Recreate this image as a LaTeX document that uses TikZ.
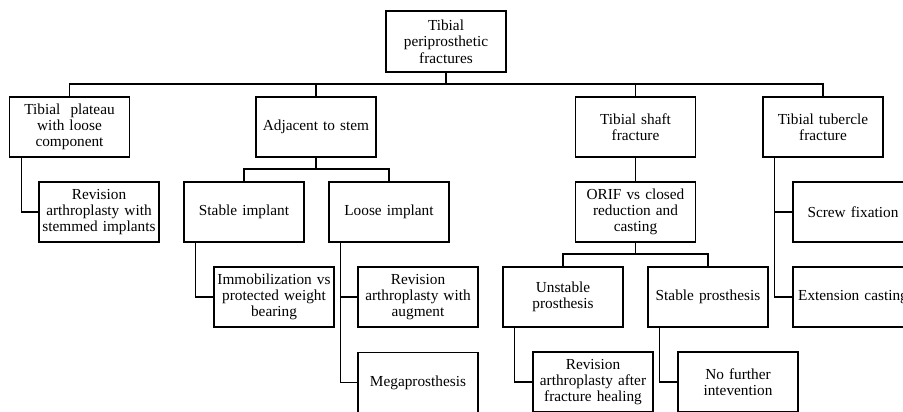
\documentclass[tikz,border=0pt]{standalone}
\usepackage{fontspec}
\setmainfont{Liberation Serif}
\begin{document}
\begin{tikzpicture}[x=1pt,y=-1pt,
  box/.style={draw, line width=1.7pt, minimum width=120pt, minimum height=60pt,
    text width=118pt, inner sep=0pt, align=center,
    font=\fontsize{15.3}{16.3}\selectfont},
  conn/.style={line width=1.2pt}]
\useasboundingbox (0,0) rectangle (903,412);
\clip (0,0) rectangle (903,412);
% level 0
\node[box, minimum height=61pt] (root) at (446,41.5) {Tibial\\periprosthetic\\fractures};
% level 1
\node[box] (plateau) at (69.5,127) {Tibial~~plateau\\with loose\\component};
\node[box] (adj) at (316,127) {Adjacent to stem};
\node[box] (shaft) at (635.5,127) {Tibial shaft\\fracture};
\node[box] (tub) at (823,127) {Tibial tubercle\\fracture};
% level 2
\node[box] (rev1) at (99,212) {Revision\\arthroplasty with\\stemmed implants};
\node[box] (stable) at (244,212) {Stable implant};
\node[box] (loose) at (389,212) {Loose implant};
\node[box] (orif) at (635.5,212) {ORIF vs closed\\reduction and\\casting};
\node[box] (screw) at (853,212) {Screw fixation};
% level 3
\node[box] (immob) at (274,297) {Immobilization vs\\protected weight\\bearing};
\node[box] (revaug) at (418,297) {Revision\\arthroplasty with\\augment};
\node[box] (unstable) at (563,297) {Unstable\\prosthesis};
\node[box] (stablep) at (708,297) {Stable prosthesis};
\node[box] (ext) at (853,297) {Extension casting};
% level 4
\node[box] (mega) at (418,382.5) {Megaprosthesis};
\node[box] (revheal) at (593,382) {Revision\\arthroplasty after\\fracture healing};
\node[box] (nofurther) at (738,382) {No further\\intevention};
% connectors
\coordinate (j0) at (446,84);
\draw[conn] (root.south) -- (j0);
\draw[conn] (j0) -| (plateau.north);
\draw[conn] (j0) -| (adj.north);
\draw[conn] (j0) -| (shaft.north);
\draw[conn] (j0) -| (tub.north);
\coordinate (j1) at (316,169);
\draw[conn] (adj.south) -- (j1);
\draw[conn] (j1) -| (stable.north);
\draw[conn] (j1) -| (loose.north);
\draw[conn] (shaft.south) -- (orif.north);
\coordinate (j2) at (635.5,254);
\draw[conn] (orif.south) -- (j2);
\draw[conn] (j2) -| (unstable.north);
\draw[conn] (j2) -| (stablep.north);
\draw[conn] ([xshift=13pt]plateau.south west) |- (rev1.west);
\draw[conn] ([xshift=12pt]stable.south west) |- (immob.west);
\draw[conn] ([xshift=12pt]loose.south west) |- (revaug.west);
\draw[conn] ([xshift=12pt]loose.south west) |- (mega.west);
\draw[conn] ([xshift=12pt]unstable.south west) |- (revheal.west);
\draw[conn] ([xshift=12pt]stablep.south west) |- (nofurther.west);
\draw[conn] ([xshift=12pt]tub.south west) |- (screw.west);
\draw[conn] ([xshift=12pt]tub.south west) |- (ext.west);
\end{tikzpicture}
\end{document}
